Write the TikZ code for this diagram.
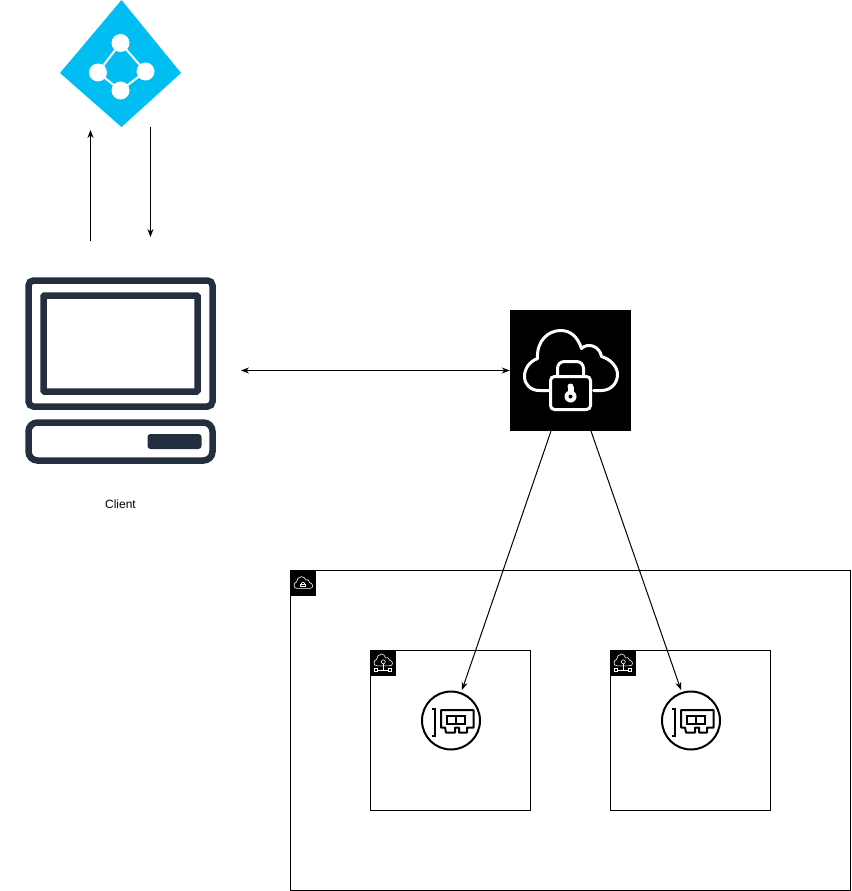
\documentclass[tikz,border=0pt]{standalone}
\usepackage{fontspec}
\setmainfont{Liberation Sans}
\usepackage{tikz}
\usetikzlibrary{arrows.meta}

\definecolor{adblue}{HTML}{00BEF2}
\definecolor{navy}{HTML}{232F3E}

\tikzset{
    >={Stealth[length=8pt,width=6pt]},
    link/.style={draw=black,line width=1pt},
    container/.style={draw=black,line width=1pt,fill=white,rectangle,inner sep=0pt},
    tagbox/.style={fill=black,rectangle,inner sep=0pt,minimum size=25pt},
    adnode/.style={circle,fill=white,inner sep=0pt,minimum size=18pt},
    eniring/.style={draw=black,line width=2pt,circle,fill=white,inner sep=0pt,minimum size=58pt},
    pics/lockcloud/.style={code={
        \draw[line cap=round,line join=round] (-22,20) -- (-31,20) .. controls (-40,20) and (-46,14) .. (-46,6)
            .. controls (-46,-2) and (-41,-9) .. (-33,-12) .. controls (-34,-30) and (-22,-40) .. (-10,-40)
            .. controls (0,-40) and (7,-34) .. (11,-22) .. controls (17,-28) and (29,-25) .. (31,-14)
            .. controls (41,-11) and (47,-3) .. (47,4) .. controls (47,13) and (40,20) .. (31,20) -- (23,20);
        \draw[rounded corners=4pt] (-20,6) rectangle (20,39);
        \draw (-13,5) -- (-13,-2) .. controls (-13,-6) and (-10,-9) .. (-6,-9) -- (6,-9)
            .. controls (10,-9) and (13,-6) .. (13,-2) -- (13,5);
        \fill[white] (0,26) circle (6);
        \fill[white] (-3,16) rectangle (3,26);
        \fill[white] (0,16) circle (3);
        \fill[black] (0,26) circle (2);
    }},
    pics/tagcloud/.style={code={
        \draw[line join=round] (-6.5,5.3) .. controls (-8,5.3) and (-9,4) .. (-9,2.5) .. controls (-9,.5) and (-8,-.5) .. (-6.5,-1)
            .. controls (-6.5,-4) and (-4,-6.3) .. (-1.5,-6.3) .. controls (.5,-6.3) and (2,-5) .. (3,-3)
            .. controls (4.5,-4) and (6.5,-3) .. (6.5,-.5) .. controls (8.5,0) and (9.7,1.5) .. (9.7,3)
            .. controls (9.7,4.5) and (8.5,5.3) .. (7,5.3) -- cycle;
        \draw (-2.5,.8) rectangle (2.5,3.7);
        \draw (-1.5,.8) -- (-1.5,0) .. controls (-1.5,-1.2) and (1.5,-1.2) .. (1.5,0) -- (1.5,.8);
    }},
    pics/netcloud/.style={code={
        \draw[line join=round] (-6,2.8) .. controls (-8,2.8) and (-9,1.5) .. (-9,0) .. controls (-9,-2) and (-8,-3) .. (-6.5,-3.5)
            .. controls (-6.5,-6.5) and (-4,-9) .. (-1.5,-9) .. controls (.5,-9) and (2,-7.5) .. (2.5,-5)
            .. controls (4,-6) and (6,-5.5) .. (6.5,-3) .. controls (8.5,-2.5) and (9.5,-1) .. (9.5,.5)
            .. controls (9.5,2) and (8,2.8) .. (6.5,2.8) -- cycle;
        \draw (.3,-1.2) circle (2);
        \draw (.3,.8) -- (.3,7) (-5.3,7) -- (5.3,7);
        \draw (-8.7,5.3) rectangle (-5.5,8.7);
        \draw (5.5,5.3) rectangle (8.7,8.7);
    }},
    pics/enicard/.style={code={
        \draw (-19,-12) -- (-16,-12) -- (-16,15) -- (-19,15);
        \draw[line join=round] (-10,-10.5) -- (22.5,-10.5) -- (22.5,7) -- (16,7) -- (16,12) -- (8,12) -- (8,7)
            -- (4,7) -- (4,12) -- (-5,12) -- (-6,7) -- (-10,7) -- cycle;
        \draw (-4,-5) rectangle (14,3);
        \draw (5,-5) -- (5,3);
    }},
}

\begin{document}
\begin{tikzpicture}[x=1pt,y=-1pt]

    \useasboundingbox (0,0) rectangle (851,891);

    % directory
    \fill[adblue] (121.5,0) -- (181,73) -- (121.5,127) -- (60,73) -- cycle;
    \draw[white,line width=2pt] (120.5,43) -- (145.5,71.5) -- (120.5,90.5) -- (98,72.5) -- cycle;
    \node (adtop) [adnode] at (120.5,43) {};
    \node (adleft) [adnode] at (98,72.5) {};
    \node (adright) [adnode] at (145.5,71.5) {};
    \node (adbottom) [adnode] at (120.5,90.5) {};

    % client
    \draw[navy,line width=6.5pt,rounded corners=5pt] (28.5,280.5) rectangle (212.5,406.5);
    \draw[navy,line width=6.5pt,rounded corners=1pt] (43.5,295.5) rectangle (197.5,391.5);
    \draw[navy,line width=6.5pt,rounded corners=9pt] (28.5,422.5) rectangle (212.5,460.5);
    \fill[navy,rounded corners=3pt] (147.5,434) rectangle (201.5,449);
    \node (client) [font=\fontsize{12}{14}\selectfont] at (120.5,504) {Client};

    % vpn
    \node (vpn) [fill=black,rectangle,inner sep=0pt,minimum size=121pt] at (570.5,370.5) {};
    \pic[draw=white,line width=3pt] at (vpn.center) {lockcloud};

    % vpc
    \node (vpc) [container,minimum width=560pt,minimum height=320pt] at (570.5,730.5) {};
    \node (vpctag) [tagbox] at (303,583) {};
    \pic[draw=white,line width=.6pt] at (vpctag.center) {tagcloud};

    % subnets
    \node (subnetone) [container,minimum size=160pt] at (450.5,730.5) {};
    \node (subnettwo) [container,minimum size=160pt] at (690.5,730.5) {};
    \node (tagone) [tagbox] at (383,663) {};
    \node (tagtwo) [tagbox] at (623,663) {};
    \pic[draw=white,line width=.6pt] at (tagone.center) {netcloud};
    \pic[draw=white,line width=.6pt] at (tagtwo.center) {netcloud};

    % interfaces
    \node (enione) [eniring] at (451,720.5) {};
    \node (enitwo) [eniring] at (691,720.5) {};
    \pic[draw=black,line width=2pt] at (enione.center) {enicard};
    \pic[draw=black,line width=2pt] at (enitwo.center) {enicard};

    % free ends
    \coordinate (upfrom) at (90.5,241);
    \coordinate (upto) at (90.5,130);
    \coordinate (downfrom) at (150.5,127);
    \coordinate (downto) at (150.5,237);
    \coordinate (clientside) at (241,370.5);
    \coordinate (vpnleft) at (551,431);
    \coordinate (vpnright) at (591,431);
    \coordinate (oneend) at (462,690);
    \coordinate (twoend) at (681,690);

    \draw[link,->] (upfrom) -- (upto);
    \draw[link,->] (downfrom) -- (downto);
    \draw[link,<->] (clientside) -- (vpn.west);
    \draw[link,->] (vpnleft) -- (oneend);
    \draw[link,->] (vpnright) -- (twoend);

\end{tikzpicture}
\end{document}
